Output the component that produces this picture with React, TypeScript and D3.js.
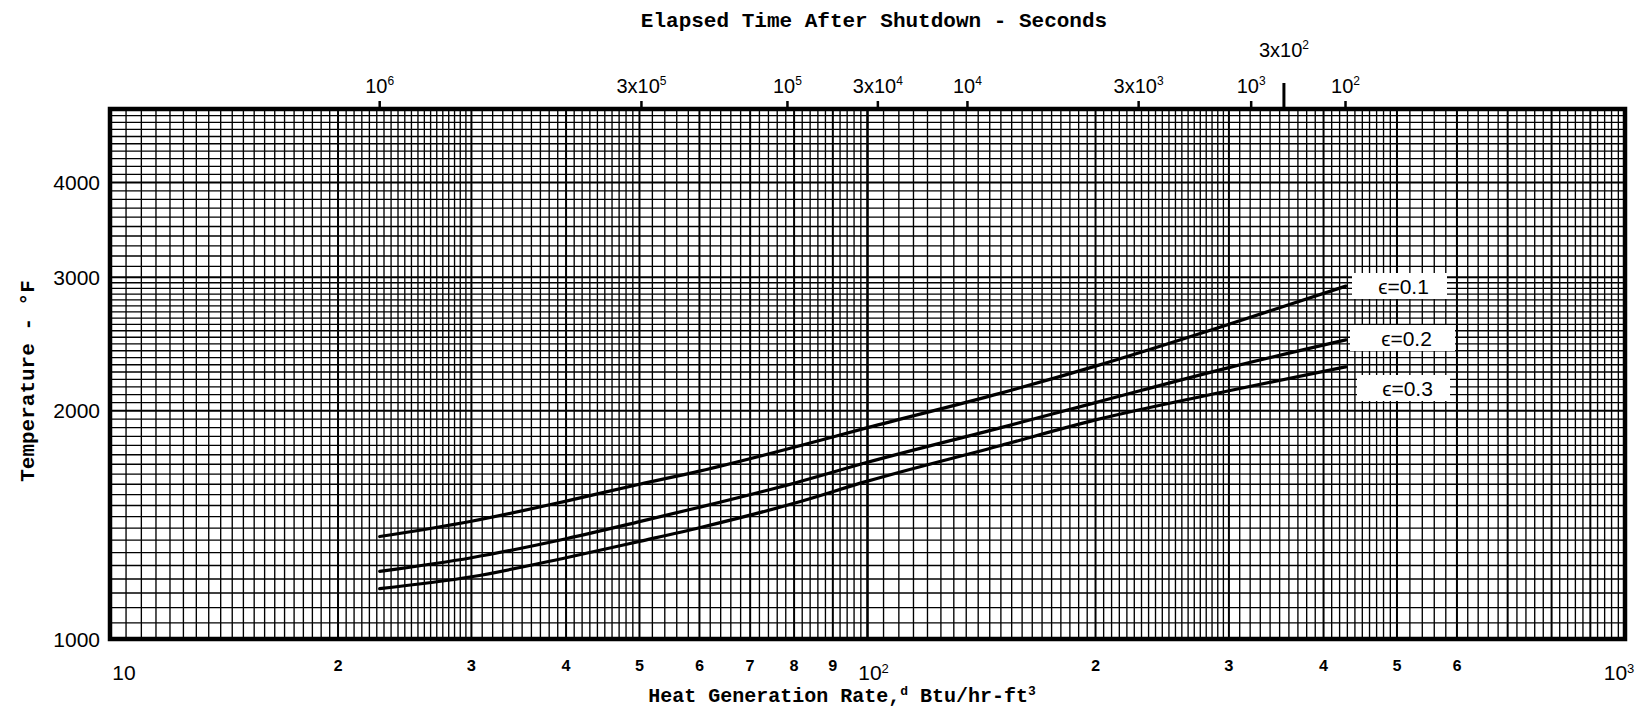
import React from "react";
import * as d3 from "d3";

// Heat generation rate (Btu/hr-ft3) sampled along each curve
const heatRate = [22.7, 30, 40, 50, 60, 80, 100, 150, 200, 300, 428];
// Temperature (°F) for each emissivity
const tempEps01 = [1365, 1430, 1520, 1600, 1665, 1790, 1900, 2110, 2290, 2600, 2920];
const tempEps02 = [1228, 1280, 1356, 1428, 1492, 1605, 1710, 1900, 2050, 2280, 2480];
const tempEps03 = [1165, 1208, 1280, 1345, 1402, 1510, 1615, 1800, 1945, 2125, 2285];
const seriesLabels = ["\u03f5=0.1", "\u03f5=0.2", "\u03f5=0.3"];

// Bottom axis labels
const bottomDigitTicks = [20, 30, 40, 50, 60, 70, 80, 90, 200, 300, 400, 500, 600];
const bottomDigitLabels = ["2", "3", "4", "5", "6", "7", "8", "9", "2", "3", "4", "5", "6"];
const bottomPowerTicks = [10, 100, 1000];
const bottomPowerExp = ["", "2", "3"];

// Left axis labels
const tempTicks = [1000, 2000, 3000, 4000];

// Top axis: elapsed time after shutdown, positioned on the heat-rate scale
const timeTickRate = [22.7, 50.3, 78.4, 103.2, 135.5, 228, 321, 354.6, 427.6];
const timeTickMant = ["", "3x", "", "3x", "", "3x", "", "3x", ""];
const timeTickExp = ["6", "5", "5", "4", "4", "3", "3", "2", "2"];
const timeTickTall = [false, false, false, false, false, false, false, true, false];

const W = 1646;
const H = 709;
const L = 110;
const R = 1625;
const T = 109;
const B = 639;

const x = d3.scaleLog().domain([10, 1000]).range([L, R]);
const y = d3.scaleLog().domain([1000, 5000]).range([B, T]);

// Log paper rulings within one decade: [start, end, step]
const decadeRulings: [number, number, number][] = [
  [1, 2, 0.05],
  [2, 3, 0.05],
  [3, 5, 0.1],
  [5, 10, 0.2],
];

function verticalRulings() {
  const out: { v: number; w: number }[] = [];
  [10, 100].forEach((dec) => {
    decadeRulings.forEach(([a, b, s]) => {
      const n = Math.round((b - a) / s);
      for (let i = 0; i < n; i++) {
        const m = +(a + i * s).toFixed(3);
        const isInt = Math.abs(m - Math.round(m)) < 1e-6;
        const w = m === 1 ? 2.6 : isInt ? 2 : 1.35;
        out.push({ v: dec * m, w });
      }
    });
  });
  return out.filter((d) => d.v > 10 && d.v < 1000);
}

function horizontalRulings() {
  const out: { v: number; w: number }[] = [];
  for (let v = 1050; v < 3000; v += 50) out.push({ v, w: v % 1000 === 0 ? 1.9 : v % 500 === 0 ? 1.6 : 1.35 });
  for (let v = 3000; v < 5000; v += 100) out.push({ v, w: v % 1000 === 0 ? 1.9 : v % 500 === 0 ? 1.6 : 1.35 });
  return out;
}

const seriesTemps = [tempEps01, tempEps02, tempEps03];

export default function App() {
  const line = d3
    .line<number>()
    .x((_, i) => x(heatRate[i]))
    .y((d) => y(d))
    .curve(d3.curveMonotoneX);

  const vr = verticalRulings();
  const hr = horizontalRulings();
  const mono = "'Liberation Mono', 'DejaVu Sans Mono', monospace";
  const sans = "'Liberation Sans', Arial, sans-serif";

  const labelBoxes = [
    { x0: 1352, x1: 1447, yc: 286 },
    { x0: 1350, x1: 1455, yc: 338 },
    { x0: 1357, x1: 1450, yc: 388 },
  ];

  return (
    <svg
      width={W}
      height={H}
      viewBox={`0 0 ${W} ${H}`}
      style={{ position: "absolute", left: 0, top: 0, background: "#fff" }}
    >
      <rect x={0} y={0} width={W} height={H} fill="#fff" />
      <g>
        {vr.map((d, i) => (
          <line key={"v" + i} x1={x(d.v)} x2={x(d.v)} y1={T} y2={B} stroke="#000" strokeWidth={d.w} />
        ))}
        {hr.map((d, i) => (
          <line key={"h" + i} x1={L} x2={R} y1={y(d.v)} y2={y(d.v)} stroke="#000" strokeWidth={d.w} />
        ))}
      </g>
      <rect x={L} y={T} width={R - L} height={B - T} fill="none" stroke="#000" strokeWidth={4.5} />

      {/* curves */}
      {seriesTemps.map((s, i) => (
        <path key={"c" + i} d={line(s) || ""} fill="none" stroke="#000" strokeWidth={3.2} strokeLinecap="round" />
      ))}

      {/* curve labels */}
      {seriesLabels.map((t, i) => {
        const b = labelBoxes[i];
        return (
          <g key={"l" + i}>
            <rect x={b.x0} y={b.yc - 13} width={b.x1 - b.x0} height={26} fill="#fff" />
            <text x={(b.x0 + b.x1) / 2 + 4} y={b.yc} dy="0.36em" textAnchor="middle" fontFamily={sans} fontSize={21}>
              {t}
            </text>
          </g>
        );
      })}

      {/* left axis */}
      {tempTicks.map((v) => (
        <text key={"t" + v} x={100} y={y(v)} dy="0.36em" textAnchor="end" fontFamily={sans} fontSize={21}>
          {v}
        </text>
      ))}
      <text
        transform={`translate(26,381) rotate(-90)`}
        textAnchor="middle"
        dy="0.36em"
        fontFamily={mono}
        fontWeight="bold"
        fontSize={21}
      >
        Temperature - °F
      </text>

      {/* bottom axis */}
      {bottomDigitTicks.map((v, i) => (
        <text key={"bd" + i} x={x(v)} y={665} dy="0.36em" textAnchor="middle" fontFamily={mono} fontWeight="bold" fontSize={16}>
          {bottomDigitLabels[i]}
        </text>
      ))}
      {bottomPowerTicks.map((v, i) => (
        <text
          key={"bp" + i}
          x={i === 0 ? x(v) + 14 : i === 2 ? x(v) - 6 : x(v) + 6}
          y={672}
          dy="0.36em"
          textAnchor="middle"
          fontFamily={sans}
          fontSize={21}
        >
          10
          {bottomPowerExp[i] && (
            <tspan fontSize={13} dy="-7">
              {bottomPowerExp[i]}
            </tspan>
          )}
        </text>
      ))}
      <text x={842} y={695} dy="0.36em" textAnchor="middle" fontFamily={mono} fontWeight="bold" fontSize={20}>
        Heat Generation Rate,
        <tspan fontSize={13} dy="-7">d</tspan>
        <tspan dy="7"> Btu/hr-ft</tspan>
        <tspan fontSize={13} dy="-7">3</tspan>
      </text>

      {/* top axis */}
      <text x={874} y={19} dy="0.36em" textAnchor="middle" fontFamily={mono} fontWeight="bold" fontSize={21}>
        Elapsed Time After Shutdown - Seconds
      </text>
      {timeTickRate.map((v, i) => {
        const px = x(v);
        const tall = timeTickTall[i];
        return (
          <g key={"tt" + i}>
            <line x1={px} x2={px} y1={T} y2={tall ? 83 : 101} stroke="#000" strokeWidth={tall ? 3 : 2.5} />
            <text x={px} y={tall ? 50 : 86} dy="0.36em" textAnchor="middle" fontFamily={sans} fontSize={20}>
              {timeTickMant[i]}10
              <tspan fontSize={12} dy="-8">
                {timeTickExp[i]}
              </tspan>
            </text>
          </g>
        );
      })}
    </svg>
  );
}
